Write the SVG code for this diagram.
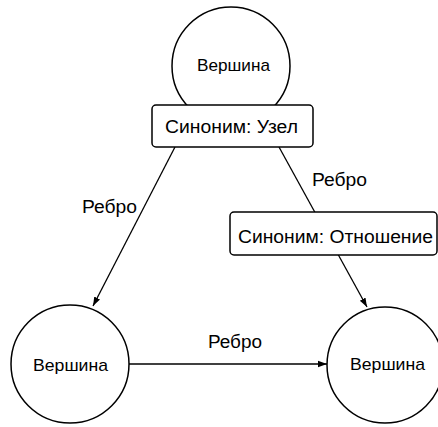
<svg xmlns="http://www.w3.org/2000/svg" width="438" height="427" viewBox="0 0 438 427">
<style>
.node{fill:#fff;stroke:#000;stroke-width:1.5}
.box{fill:#fff;stroke:#000;stroke-width:1.5}
.edge{stroke:#000;stroke-width:1.3;fill:none}
text{font-family:"Liberation Sans",Arial,sans-serif;fill:#000}
.v{font-size:17px}
.l{font-size:18px}
</style>
<defs>
<marker id="arr" markerWidth="10" markerHeight="8" refX="9" refY="4" orient="auto" markerUnits="userSpaceOnUse">
<path d="M0,0.8 L9,4 L0,7.2 Z" fill="#000"/>
</marker>
</defs>
<g id="connectors">
<line class="edge" x1="175" y1="147" x2="93" y2="306" marker-end="url(#arr)"/>
<line class="edge" x1="279" y1="147" x2="367" y2="307" marker-end="url(#arr)"/>
<line class="edge" x1="129" y1="364" x2="327" y2="364" marker-end="url(#arr)"/>
</g>
<g id="node-top">
<circle class="node" cx="231" cy="66" r="59"/>
<text class="v" x="197" y="71" textLength="73" lengthAdjust="spacingAndGlyphs">Вершина</text>
</g>
<g id="note-uzel">
<rect class="box" x="152" y="105" width="161" height="42" rx="4"/>
<text class="l" x="165" y="133" textLength="133" lengthAdjust="spacingAndGlyphs">Синоним: Узел</text>
</g>
<g id="node-left">
<circle class="node" cx="70" cy="364" r="59"/>
<text class="v" x="33" y="371" textLength="75" lengthAdjust="spacingAndGlyphs">Вершина</text>
</g>
<g id="node-right">
<circle class="node" cx="385" cy="365" r="58"/>
<text class="v" x="350" y="370" textLength="75" lengthAdjust="spacingAndGlyphs">Вершина</text>
</g>
<g id="note-otnoshenie">
<rect class="box" x="230" y="212" width="207" height="43" rx="4"/>
<text class="l" x="238" y="243" textLength="195" lengthAdjust="spacingAndGlyphs">Синоним: Отношение</text>
</g>
<g id="labels">
<text class="l" x="312" y="186" textLength="55" lengthAdjust="spacingAndGlyphs">Ребро</text>
<text class="l" x="82" y="213" textLength="55" lengthAdjust="spacingAndGlyphs">Ребро</text>
<text class="l" x="208" y="348" textLength="54" lengthAdjust="spacingAndGlyphs">Ребро</text>
</g>
</svg>
